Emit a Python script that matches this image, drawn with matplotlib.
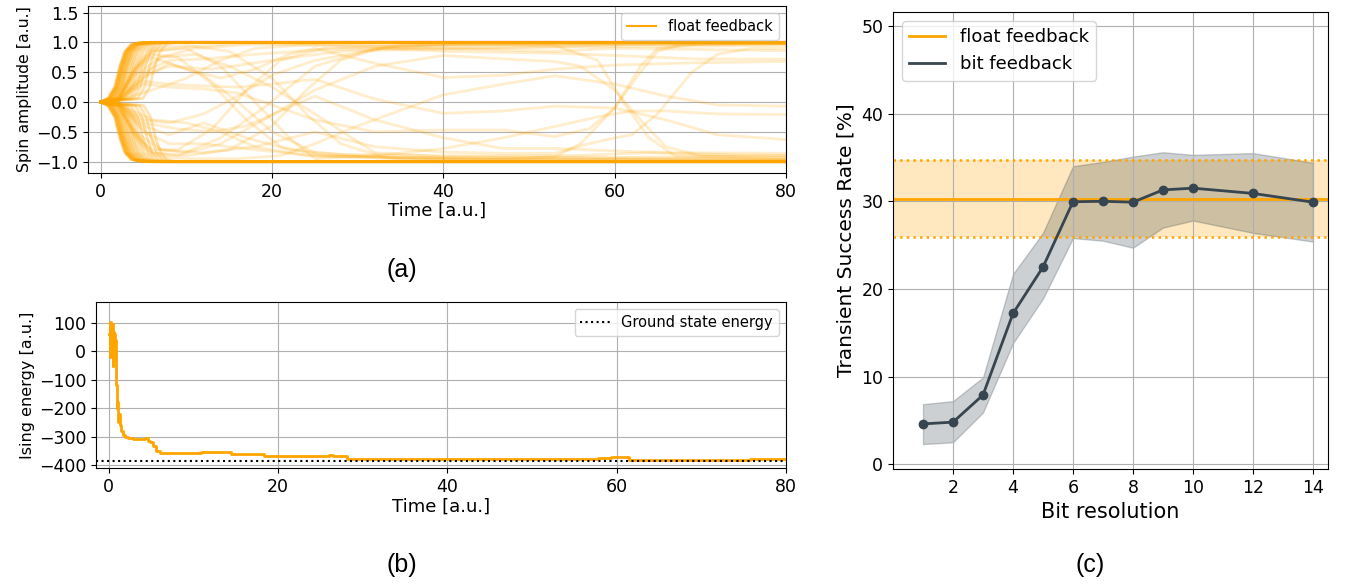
import matplotlib
matplotlib.use("Agg")
import matplotlib.pyplot as plt
from matplotlib.lines import Line2D

ORANGE = "#FFA500"
SLATE = "#36454f"

# ---- (a) spin amplitudes ----
# shape of a spin settling to +/-1, measured from its onset time
rise_dt = [0.0, 0.8, 1.4, 2.0, 2.7, 3.5, 4.7]
rise_amp = [0.06, 0.25, 0.6, 0.85, 0.96, 0.99, 1.0]
up_onsets = [0.8, 0.85, 0.9, 1.0, 1.0, 1.1, 1.2, 1.2, 1.3, 1.4, 1.5, 1.6, 1.7,
             1.8, 2.0, 2.2, 2.4, 2.7, 3.0, 3.4, 3.8, 4.3, 4.9]
down_onsets = [0.8, 0.85, 0.9, 0.95, 1.0, 1.1, 1.15, 1.2, 1.3, 1.4, 1.5, 1.6,
               1.8, 1.9, 2.1, 2.3, 2.5, 2.8, 3.1, 3.5, 4.0, 4.5, 5.0]

# spins that keep flipping during the run
wander_t = [
    [0, 2, 4, 6, 9, 14, 19, 25, 32, 40, 50, 58, 80],
    [0, 2, 4, 6, 10, 16, 25, 35, 40, 53, 60, 70, 80],
    [0, 2, 5, 7, 11, 18, 25, 40, 53, 60, 70, 80],
    [0, 2, 5, 7, 10, 14, 19, 25, 32, 40, 50, 53, 56, 60, 63, 66, 70, 80],
    [0, 2, 4, 6, 10, 14, 18, 22, 25, 32, 40, 47, 53, 60, 70, 80],
    [0, 2, 4, 6, 10, 16, 21, 25, 30, 40, 47, 53, 60, 66, 72, 80],
    [0, 2, 5, 8, 12, 16, 20, 25, 32, 40, 47, 53, 60, 66, 72, 80],
    [0, 2, 5, 8, 12, 16, 20, 25, 32, 40, 47, 53, 57, 60, 63, 65, 68, 80],
    [0, 2, 4, 6, 10, 14, 18, 22, 25, 32, 40, 47, 53, 58, 62, 66, 72, 80],
    [0, 2, 4, 7, 12, 18, 25, 32, 40, 47, 53, 57, 60, 62, 65, 69, 72, 76, 80],
    [0, 2, 4, 7, 11, 15, 20, 25, 32, 40, 53, 60, 80],
    [0, 2, 5, 8, 12, 16, 20, 25, 35, 45, 53, 58, 61, 64, 67, 80],
    [0, 2, 5, 8, 12, 16, 20, 25, 35, 45, 53, 56, 60, 63, 65, 70, 80],
    [0, 2, 5, 9, 13, 17, 21, 25, 32, 40, 47, 53, 60, 66, 80],
    [0, 2, 4, 6, 10, 15, 20, 24, 28, 33, 40, 80],
    [0, 2, 4, 6, 10, 15, 20, 24, 28, 33, 40, 80],
    [0, 2, 5, 8, 12, 18, 25, 33, 45, 60, 80],
    [0, 2, 5, 8, 12, 18, 26, 36, 50, 65, 80],
    [0, 2, 6, 10, 14, 18, 24, 35, 50, 80],
    [0, 2, 6, 10, 14, 18, 24, 80],
    [0, 2, 4, 6, 9, 13, 17, 21, 26, 35, 80],
    [0, 2, 4, 6, 9, 13, 17, 21, 26, 35, 80],
    [0, 2, 5, 8, 12, 17, 22, 28, 40, 55, 64, 72, 80],
    [0, 2, 5, 8, 13, 20, 28, 36, 46, 56, 62, 80],
]
wander_a = [
    [0, 0.05, -0.5, -0.85, -0.9, -0.6, -0.1, 0.6, 0.9, 0.95, 0.97, 0.99, 0.99],
    [0, 0.05, 0.55, 0.85, 0.92, 0.98, 0.98, 0.92, 0.9, 0.85, 0.9, 0.88, 0.86],
    [0, 0.02, 0.4, 0.75, 0.9, 0.97, 0.95, 0.85, 0.82, 0.78, 0.72, 0.72],
    [0, -0.03, -0.45, -0.8, -0.85, -0.7, -0.3, 0.2, 0.6, 0.78, 0.7, 0.68, 0.6, 0.2, -0.3, -0.75, -0.9, -0.93],
    [0, 0.05, 0.5, 0.75, 0.55, 0.4, 0.55, 0.8, 0.9, 0.65, 0.41, 0.45, 0.55, 0.62, 0.66, 0.68],
    [0, -0.05, -0.6, -0.9, -0.95, -0.95, -0.9, -0.7, -0.4, 0.12, 0.3, 0.44, 0.3, 0.1, -0.05, -0.07],
    [0, 0.02, 0.35, 0.3, 0.27, 0.25, 0.3, 0.38, 0.05, -0.19, -0.15, -0.07, -0.1, -0.3, -0.55, -0.63],
    [0, 0.03, 0.3, 0.25, 0.22, 0.15, -0.05, -0.3, -0.5, -0.47, -0.47, -0.58, -0.45, -0.1, 0.5, 0.85, 0.97, 0.99],
    [0, 0.05, 0.55, 0.85, 0.9, 0.6, 0.0, -0.6, -0.95, -0.9, -0.78, -0.6, -0.41, -0.25, -0.15, -0.15, -0.2, -0.21],
    [0, -0.05, -0.5, -0.8, -0.85, -0.75, -0.5, -0.75, -0.84, -0.86, -0.86, -0.7, -0.6, -0.55, -0.2, 0.5, 0.8, 0.9, 0.9],
    [0, 0.05, 0.45, 0.75, 0.8, 0.6, 0.25, -0.2, -0.85, -0.92, -0.92, -0.93, -0.9],
    [0, -0.03, -0.3, -0.35, -0.2, 0.1, 0.45, 0.7, 0.95, 0.98, 0.95, 0.7, 0.0, -0.6, -0.9, -0.96],
    [0, 0.03, 0.4, 0.65, 0.45, 0.0, -0.5, -0.85, -0.95, -0.97, -0.92, -0.7, -0.1, 0.6, 0.9, 0.97, 0.98],
    [0, -0.03, -0.35, -0.45, -0.5, -0.4, -0.15, 0.1, -0.3, -0.6, -0.78, -0.78, -0.82, -0.85, -0.86],
    [0, -0.05, -0.55, -0.85, -0.9, -0.8, -0.4, 0.2, 0.7, 0.92, 0.97, 0.98],
    [0, 0.05, 0.6, 0.9, 0.95, 0.85, 0.4, -0.2, -0.7, -0.92, -0.96, -0.97],
    [0, -0.03, -0.5, -0.7, -0.7, -0.8, -0.9, -0.93, -0.95, -0.96, -0.97],
    [0, 0.03, 0.5, 0.7, 0.72, 0.8, 0.88, 0.9, 0.92, 0.93, 0.95],
    [0, -0.03, -0.3, -0.35, -0.5, -0.75, -0.9, -0.95, -0.97, -0.98],
    [0, 0.03, 0.2, 0.4, 0.7, 0.9, 0.96, 0.99],
    [0, -0.05, -0.55, -0.8, -0.8, -0.45, 0.2, 0.7, 0.9, 0.95, 0.97],
    [0, 0.05, 0.55, 0.8, 0.75, 0.3, -0.3, -0.75, -0.9, -0.93, -0.95],
    [0, -0.03, -0.4, -0.55, -0.35, -0.6, -0.8, -0.88, -0.9, -0.9, -0.85, -0.88, -0.9],
    [0, 0.03, 0.45, 0.6, 0.55, 0.7, 0.85, 0.88, 0.9, 0.94, 0.97, 0.98],
]

# ---- (b) Ising energy ----
energy_t = [0, 0.1, 0.15, 0.2, 0.3, 0.35, 0.45, 0.5, 0.6, 0.65, 0.75, 0.8, 0.85,
            0.95, 1.0, 1.1, 1.2, 1.3, 1.5, 1.7, 1.9, 2.3, 2.9, 4.3, 4.6, 4.9,
            5.2, 5.6, 6.1, 10.9, 14.5, 15.5, 17.0, 18.3, 26.0, 26.5, 28.1,
            57.8, 59.3, 61.5, 75.7, 80]
energy_val = [60, 100, -20, 105, 30, 95, -50, 70, 0, 60, -30, 40, -120,
              -200, -180, -250, -220, -260, -280, -295, -300, -305, -310, -304,
              -315, -321, -335, -350, -359, -355, -362, -360, -362, -367, -366,
              -367, -379, -374, -371, -381, -379, -379]
ground_energy = -387

# ---- (c) success rate vs bit resolution ----
bits = [1, 2, 3, 4, 5, 6, 7, 8, 9, 10, 12, 14]
bit_rate = [4.6, 4.8, 7.9, 17.2, 22.5, 29.95, 30.0, 29.9, 31.3, 31.5, 30.9, 29.9]
bit_upper = [6.85, 7.2, 9.9, 21.7, 26.4, 34.0, 34.5, 35.1, 35.6, 35.3, 35.5, 34.4]
bit_lower = [2.3, 2.5, 5.9, 13.8, 18.9, 25.8, 25.5, 24.7, 27.0, 27.8, 26.4, 25.4]
float_rate = 30.3
float_upper = 34.7
float_lower = 25.9

fig = plt.figure(figsize=(13.64, 5.83), dpi=100)

# (a)
ax1 = fig.add_axes([0.0645, 0.7033, 0.5117, 0.2864])
for t0 in up_onsets:
    ax1.plot([0] + [t0 + d for d in rise_dt] + [80], [0] + rise_amp + [1.0],
             color=ORANGE, alpha=0.3, lw=2)
for t0 in down_onsets:
    ax1.plot([0] + [t0 + d for d in rise_dt] + [80], [0] + [-v for v in rise_amp] + [-1.0],
             color=ORANGE, alpha=0.3, lw=2)
for tt, aa in zip(wander_t, wander_a):
    ax1.plot(tt, aa, color=ORANGE, alpha=0.2, lw=2)
ax1.set_xlim(-1.5, 80)
ax1.set_ylim(-1.19, 1.61)
ax1.set_yticks([-1.0, -0.5, 0.0, 0.5, 1.0, 1.5])
ax1.set_xticks([0, 20, 40, 60, 80])
ax1.grid(True)
ax1.set_axisbelow(True)
ax1.tick_params(labelsize=12.5)
ax1.set_xlabel("Time [a.u.]", fontsize=13, labelpad=1)
ax1.set_ylabel("Spin amplitude [a.u.]", fontsize=11.3, labelpad=3)
ax1.legend([Line2D([], [], color=ORANGE, lw=1.5)], ["float feedback"],
           loc="upper right", fontsize=10.5)

# (b)
ax2 = fig.add_axes([0.0704, 0.1967, 0.5058, 0.2858])
ax2.plot(energy_t, energy_val, color=ORANGE, lw=2, drawstyle="steps-post")
ax2.axhline(ground_energy, color="black", ls=":", lw=1.5, label="Ground state energy")
ax2.set_xlim(-1.5, 80)
ax2.set_ylim(-412, 175)
ax2.set_yticks([100, 0, -100, -200, -300, -400])
ax2.set_xticks([0, 20, 40, 60, 80])
ax2.grid(True)
ax2.tick_params(labelsize=12.5)
ax2.set_xlabel("Time [a.u.]", fontsize=13, labelpad=1)
ax2.set_ylabel("Ising energy [a.u.]", fontsize=11.5, labelpad=3)
ax2.legend(loc="upper right", fontsize=10.5)

# (c)
ax3 = fig.add_axes([0.6547, 0.1955, 0.3189, 0.7839])
ax3.axhspan(float_lower, float_upper, color=ORANGE, alpha=0.25, lw=0)
ax3.axhline(float_upper, color=ORANGE, ls=":", lw=1.8)
ax3.axhline(float_lower, color=ORANGE, ls=":", lw=1.8)
ax3.axhline(float_rate, color=ORANGE, lw=2)
ax3.fill_between(bits, bit_lower, bit_upper, color=SLATE, alpha=0.25)
ax3.plot(bits, bit_rate, color=SLATE, lw=2, marker="o", ms=6)
ax3.set_xlim(0, 14.5)
ax3.set_ylim(-0.55, 51.6)
ax3.set_xticks([2, 4, 6, 8, 10, 12, 14])
ax3.set_yticks([0, 10, 20, 30, 40, 50])
ax3.grid(True)
ax3.tick_params(labelsize=12.5)
ax3.set_xlabel("Bit resolution", fontsize=15)
ax3.set_ylabel("Transient Success Rate [%]", fontsize=14.5)
ax3.legend([Line2D([], [], color=ORANGE, lw=2), Line2D([], [], color=SLATE, lw=2)],
           ["float feedback", "bit feedback"], loc="upper left", fontsize=13)

# panel tags
for x, y, s in [(402, 270, "(a)"), (402, 565, "(b)"), (1090, 565, "(c)")]:
    fig.text(x / 1364, 1 - y / 583, s, ha="center", va="center",
             fontsize=18, family="Liberation Sans")

fig.savefig("out.png", dpi=100)
